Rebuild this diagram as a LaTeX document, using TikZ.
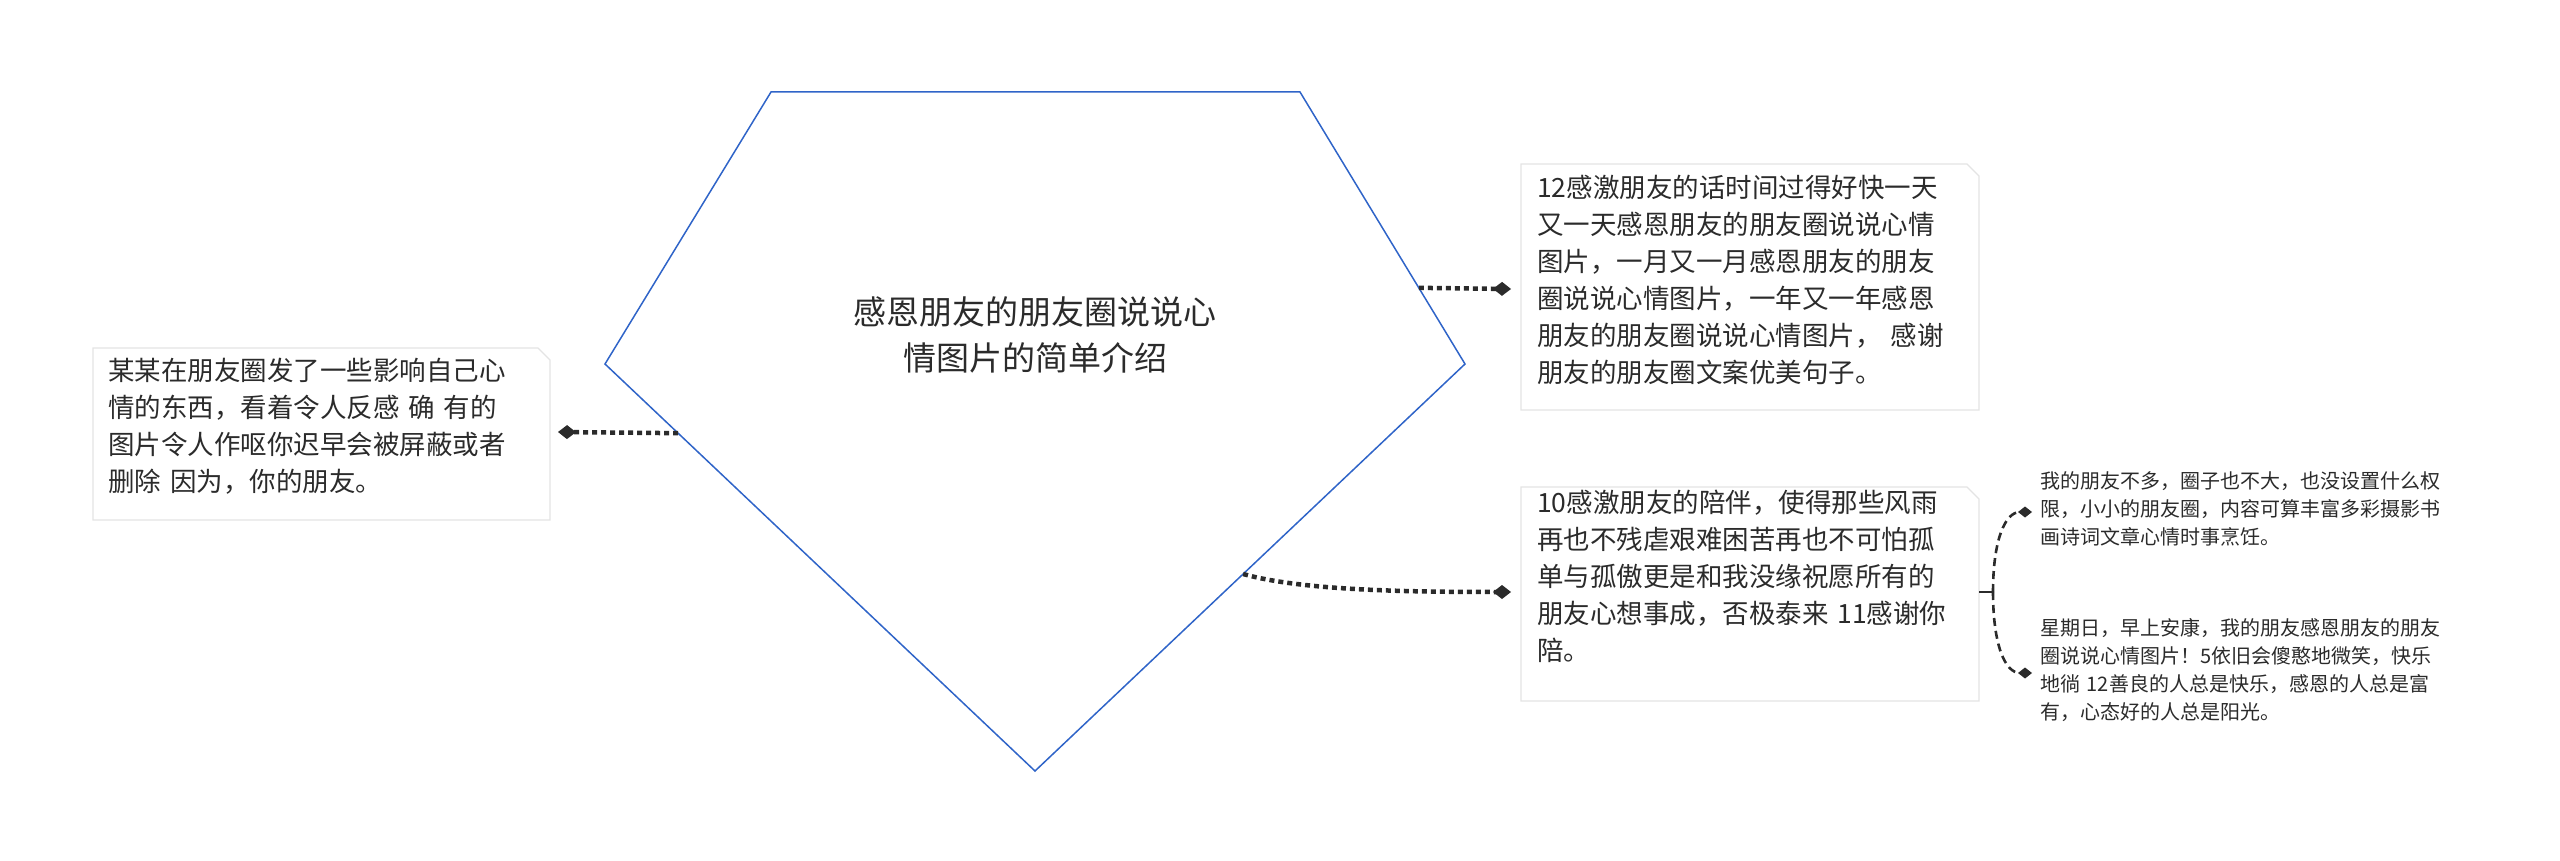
\documentclass[tikz,border=0pt]{standalone}
\usepackage{fontspec}
\setmainfont{Noto Sans CJK SC}
\usetikzlibrary{arrows.meta,calc}
\definecolor{ink}{HTML}{2B2B2B}
\definecolor{edge}{HTML}{E4E4E4}
\definecolor{pent}{HTML}{2F64C8}
\begin{document}
\begin{tikzpicture}[x=1pt,y=-1pt,
  box/.style={inner sep=0pt, text width=430pt, align=left, text=ink, font=\fontsize{26.5pt}{37pt}\selectfont},
  leaf/.style={inner sep=0pt, anchor=north west, text width=470pt, align=left, text=ink, font=\fontsize{20pt}{28pt}\selectfont},
  conn/.style={draw=ink, line width=4.5pt, dash pattern=on 5pt off 4pt, -{Diamond[length=18pt,width=14pt,fill=ink]}},
  sub/.style={draw=ink, line width=2.6pt, dash pattern=on 8pt off 5pt, -{Diamond[length=14pt,width=11pt,fill=ink]}},
  card/.style={draw=edge, line width=1.2pt, fill=white}]
\useasboundingbox (0,0) rectangle (2560,861);
% pentagon
\coordinate (pA) at (771,92);
\coordinate (pB) at (1300,92);
\coordinate (pC) at (1465,364);
\coordinate (pD) at (1035,771);
\coordinate (pE) at (605,364);
\draw[pent, line width=1.5pt] (pA) -- (pB) -- (pC) -- (pD) -- (pE) -- cycle;
\node[text=ink, align=center, font=\fontsize{33pt}{46pt}\selectfont] (c) at (1035,335) {感恩朋友的朋友圈说说心\\情图片的简单介绍};
% cards
\draw[card] (93,348) -- (538,348) -- (550,360) -- (550,520) -- (93,520) -- cycle;
\draw[card] (1521,164) -- (1967,164) -- (1979,176) -- (1979,410) -- (1521,410) -- cycle;
\draw[card] (1521,487) -- (1967,487) -- (1979,499) -- (1979,701) -- (1521,701) -- cycle;
\coordinate (L) at (550,432);
\coordinate (R1) at (1521,289);
\coordinate (R2) at (1521,592);
\coordinate (R2e) at (1979,592);
\node[box, anchor=north west] (tl) at (108,358) {某某在朋友圈发了一些影响自己心\\情的东西，看着令人反感 确 有的\\图片令人作呕你迟早会被屏蔽或者\\删除 因为，你的朋友。};
\node[box, anchor=north west] (t1) at (1537,175) {12感激朋友的话时间过得好快一天\\又一天感恩朋友的朋友圈说说心情\\图片，一月又一月感恩朋友的朋友\\圈说说心情图片，一年又一年感恩\\朋友的朋友圈说说心情图片， 感谢\\朋友的朋友圈文案优美句子。};
\node[box, anchor=north west] (t2) at (1537,490) {10感激朋友的陪伴，使得那些风雨\\再也不残虐艰难困苦再也不可怕孤\\单与孤傲更是和我没缘祝愿所有的\\朋友心想事成，否极泰来 11感谢你\\陪。};
\node[leaf] (l1) at (2040,471) {我的朋友不多，圈子也不大，也没设置什么权\\限，小小的朋友圈，内容可算丰富多彩摄影书\\画诗词文章心情时事烹饪。};
\node[leaf] (l2) at (2040,618) {星期日，早上安康，我的朋友感恩朋友的朋友\\圈说说心情图片！5依旧会傻憨地微笑，快乐\\地徜 12善良的人总是快乐，感恩的人总是富\\有，心态好的人总是阳光。};
% connectors
\draw[conn] ($(pE)!0.17!(pD)$) -- ([xshift=8pt]L);
\draw[conn] ($(pB)!0.72!(pC)$) -- ([xshift=-10pt]R1);
\draw[conn] ($(pC)!0.516!(pD)$) .. controls (1300,590) and (1400,592) .. ([xshift=-10pt]R2);
\coordinate (s) at (1993,592);
\draw[draw=ink, line width=2.6pt] (R2e) -- (s);
\draw[sub] (s) .. controls (1993,540) and (2005,512) .. ([xshift=-8pt]l1.west |- 0,512);
\draw[sub] (s) .. controls (1993,645) and (2005,673) .. ([xshift=-8pt]l2.west |- 0,673);
\end{tikzpicture}
\end{document}
